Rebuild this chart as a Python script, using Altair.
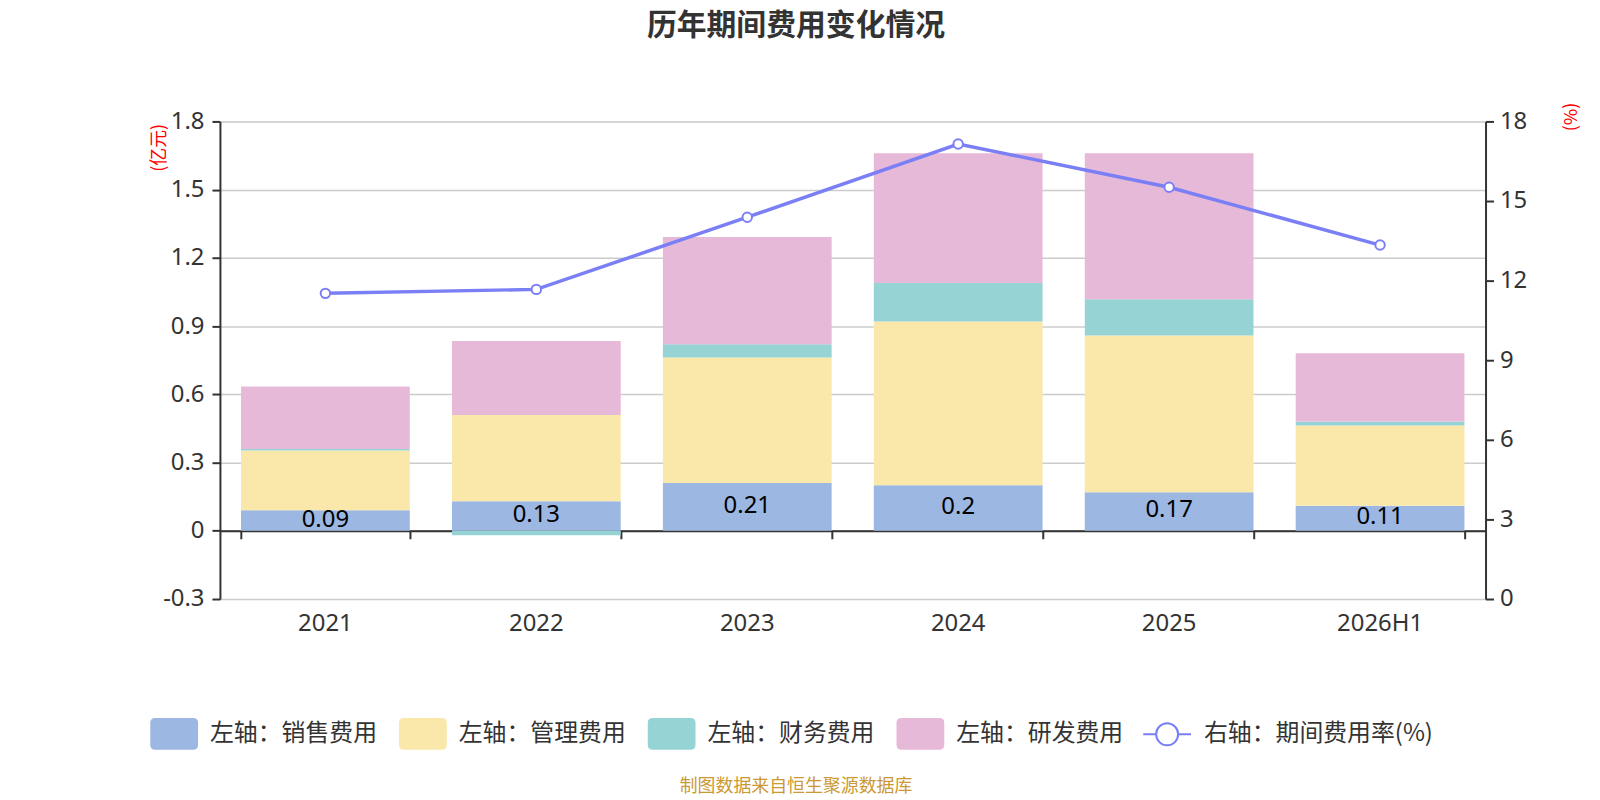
import altair as alt
import pandas as pd

# ---- data ----
years = ["2021", "2022", "2023", "2024", "2025", "2026H1"]
sales = [0.09, 0.13, 0.21, 0.20, 0.17, 0.11]
mgmt = [0.263, 0.379, 0.552, 0.72, 0.689, 0.353]
fin = [0.007, -0.02, 0.058, 0.17, 0.159, 0.018]
rd = [0.274, 0.325, 0.472, 0.57, 0.642, 0.30]
rate = [11.52, 11.67, 14.39, 17.15, 15.52, 13.34]

series_names = ["销售费用", "管理费用", "财务费用", "研发费用"]
colors = ["#9bb7e2", "#f9e8aa", "#96d3d4", "#e7b9d8"]
rate_name = "右轴：期间费用率(%)"
line_color = "#7b7ff5"
left_ticks = [-0.3, 0, 0.3, 0.6, 0.9, 1.2, 1.5, 1.8]
right_ticks = [0, 3, 6, 9, 12, 15, 18]
title_text = "历年期间费用变化情况"
source_text = "制图数据来自恒生聚源数据库"

rows = []
for i, yr in enumerate(years):
    for k, (name, vals) in enumerate(zip(series_names, [sales, mgmt, fin, rd])):
        rows.append({"year": yr, "series": name, "value": vals[i], "order": k})
bar_df = pd.DataFrame(rows)
label_df = pd.DataFrame({"year": years, "sales": sales})
rate_df = pd.DataFrame({"year": years, "rate": rate, "name": [rate_name] * len(years)})
src_df = pd.DataFrame({"t": [source_text]})

W, H = 1272, 480
FONT = "Noto Sans, Noto Sans CJK SC"
CJK = "Noto Sans CJK SC"
zero_offset = -H * 0.3 / 2.1

rect_path = ("M-0.79,-0.667L0.79,-0.667Q1,-0.667,1,-0.46L1,0.46Q1,0.667,0.79,0.667"
             "L-0.79,0.667Q-1,0.667,-1,0.46L-1,-0.46Q-1,-0.667,-0.79,-0.667Z")
line_path = ("M-1,0L-0.46,0M0.46,0L1,0M0.46,0A0.46,0.46,0,1,1,-0.46,0"
             "A0.46,0.46,0,1,1,0.46,0Z")

x_scale = alt.Scale(paddingInner=0.2, paddingOuter=0.1)
x_main = alt.X("year:N", sort=years, title=None, scale=x_scale,
               axis=alt.Axis(orient="bottom", domain=False, ticks=False, grid=False,
                             labelAngle=0, labelFontSize=24, labelColor="#333",
                             labelFont=FONT, labelPadding=25, labelBaseline="middle"))
x_zero = alt.X("year:N", sort=years, title=None,
               axis=alt.Axis(orient="bottom", domain=True, domainColor="#333",
                             domainWidth=2, ticks=True, tickBand="extent",
                             tickColor="#333", tickWidth=2, tickSize=8, labels=False,
                             grid=False, offset=zero_offset))

y_left = alt.Y("value:Q", stack="zero", title="(亿元)",
               scale=alt.Scale(domain=[-0.3, 1.8], nice=False, zero=False),
               axis=alt.Axis(values=left_ticks,
                             labelExpr="replace(format(datum.value,'~g'),'−','-')",
                             grid=True, gridColor="#cccccc", gridWidth=1.5,
                             domain=True, domainColor="#333", domainWidth=2,
                             ticks=True, tickColor="#333", tickWidth=2, tickSize=8,
                             labelFontSize=24, labelColor="#333", labelFont=FONT,
                             labelPadding=8,
                             titleColor="red", titleFontSize=18, titleFont=CJK,
                             titleFontWeight="normal", titleAngle=270,
                             titleX=-61, titleY=26, titleAlign="center",
                             titleBaseline="middle"))

bars = alt.Chart(bar_df).mark_bar().encode(
    x=x_main,
    y=y_left,
    color=alt.Color("series:N",
                    scale=alt.Scale(domain=series_names, range=colors),
                    legend=alt.Legend(orient="none", legendX=-70, legendY=591,
                                      direction="horizontal", title=None,
                                      symbolType=rect_path, symbolSize=2304,
                                      symbolStrokeWidth=0, symbolOpacity=1,
                                      labelFontSize=24, labelFont=CJK,
                                      labelColor="#333", labelOffset=12,
                                      labelLimit=400,
                                      columnPadding=22, padding=0,
                                      labelExpr="'左轴：' + datum.label")),
    order=alt.Order("order:Q"),
)

labels = alt.Chart(label_df).transform_calculate(
    mid="datum.sales / 2"
).mark_text(fontSize=24, font=FONT, color="black", baseline="middle", dy=-1).encode(
    x=x_main,
    y=alt.Y("mid:Q"),
    text=alt.Text("sales:Q", format="~g"),
)

y_right = alt.Y("rate:Q", title="(%)",
                scale=alt.Scale(domain=[0, 18], nice=False),
                axis=alt.Axis(orient="right", values=right_ticks, grid=False,
                              domain=True, domainColor="#333", domainWidth=2,
                              ticks=True, tickColor="#333", tickWidth=2, tickSize=8,
                              labelFontSize=24, labelColor="#333", labelFont=FONT,
                              labelPadding=6,
                              titleColor="red", titleFontSize=18, titleFont=CJK,
                              titleFontWeight="normal", titleAngle=270,
                              titleX=86, titleY=-5, titleAlign="center",
                              titleBaseline="middle"))

stroke_enc = alt.Stroke("name:N", scale=alt.Scale(domain=[rate_name], range=[line_color]),
                        legend=alt.Legend(orient="none", legendX=927, legendY=591,
                                          direction="horizontal", title=None,
                                          symbolType=line_path, symbolSize=2304,
                                          symbolStrokeWidth=2, symbolFillColor="white",
                                          labelFontSize=24, labelFont=CJK,
                                          labelColor="#333", labelOffset=12,
                                          labelLimit=400, padding=0))

line = alt.Chart(rate_df).mark_line(strokeWidth=3.5).encode(
    x=x_zero, y=y_right, stroke=stroke_enc)
points = alt.Chart(rate_df).mark_point(filled=True, fill="white", size=90,
                                       strokeWidth=2, opacity=1).encode(
    x=x_zero, y=y_right, stroke=stroke_enc)

src = alt.Chart(src_df).mark_text(fontSize=18, font=CJK, color="#cc9933",
                                  baseline="middle", align="center").encode(
    text="t:N", x=alt.value(W / 2 - 57), y=alt.value(669))

left_layer = alt.layer(bars, labels)
right_layer = alt.layer(line, points)

chart = alt.layer(left_layer, right_layer, src).resolve_scale(
    y="independent"
).resolve_axis(
    x="independent"
).properties(
    width=W, height=H,
    autosize=alt.AutoSizeParams(type="none"),
    padding={"left": 213, "top": 112, "right": 107, "bottom": 200},
    title=alt.TitleParams(title_text, fontSize=30, font=CJK, fontWeight="bold",
                          color="#333", anchor="middle", dx=-57, offset=61),
).configure_view(stroke=None).configure(background="white")

chart.save("out.html", embed_options={"renderer": "svg", "actions": False})
